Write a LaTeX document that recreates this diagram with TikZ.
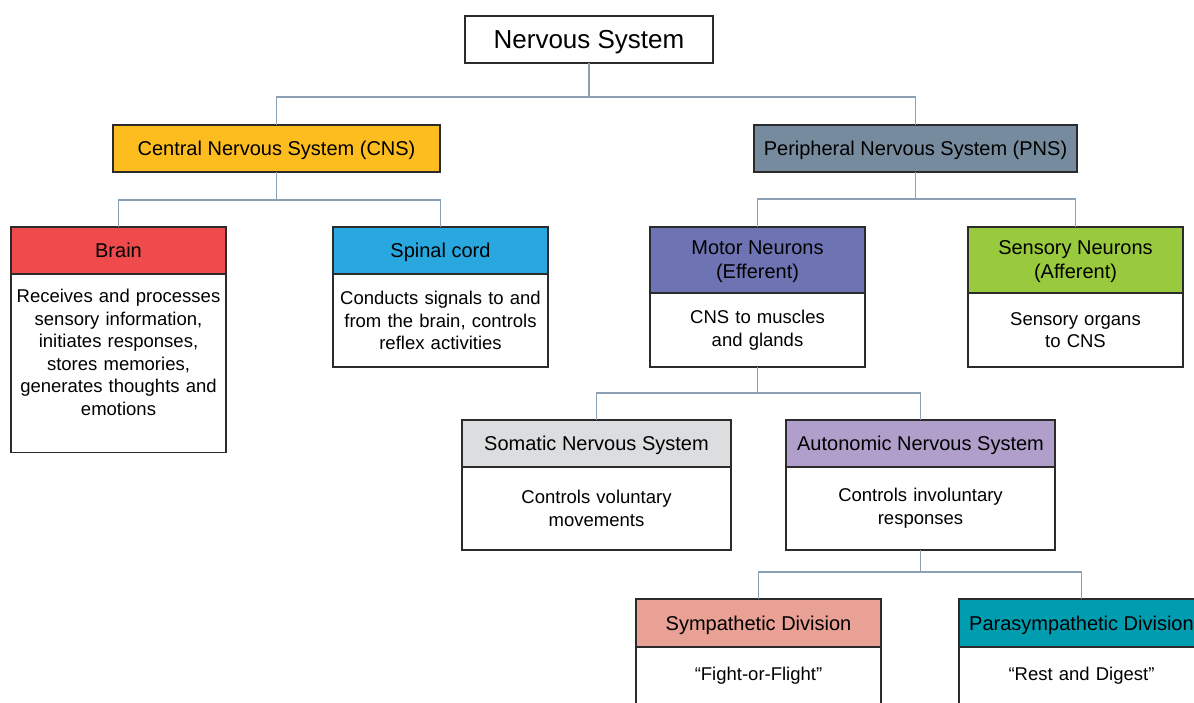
\documentclass[tikz,border=0pt]{standalone}
\usepackage{fontspec}
\setmainfont{Liberation Sans}
\usepackage{tikz}
\usetikzlibrary{positioning}

\definecolor{boxline}{HTML}{2B2B2B}
\definecolor{linkgray}{HTML}{8CA0B3}
\definecolor{cnsyellow}{HTML}{FDBD1E}
\definecolor{pnsslate}{HTML}{768B9D}
\definecolor{brainred}{HTML}{EF4B4C}
\definecolor{spinalblue}{HTML}{29A8E0}
\definecolor{motorblue}{HTML}{6E74B3}
\definecolor{sensorygreen}{HTML}{99C93D}
\definecolor{somaticgray}{HTML}{DCDDDE}
\definecolor{autopurple}{HTML}{B09FCB}
\definecolor{sympink}{HTML}{E9A095}
\definecolor{paracyan}{HTML}{009DB1}

\begin{document}
\begin{tikzpicture}[x=1pt,y=1pt]

        \tikzstyle{head}=[draw=boxline,line width=1.2pt,outer sep=0pt,inner sep=4pt,minimum height=47pt,text depth=0pt,align=center,font=\fontsize{20}{24}\selectfont]
        \tikzstyle{body}=[draw=boxline,line width=1.2pt,outer sep=0pt,fill=white,inner xsep=4pt,align=center,font=\fontsize{18.5}{22.6}\selectfont]
        \tikzstyle{link}=[draw=linkgray,line width=1.3pt]

        \useasboundingbox (0,0) rectangle (1194,-703);
        \clip (0,0) rectangle (1194,-703);

        \node[head,minimum width=248pt,font=\fontsize{26}{30}\selectfont] (A) at (589,-39.5) {Nervous System};
        \node[head,fill=cnsyellow,minimum width=327pt] (B) at (276.5,-148.5) {Central Nervous System (CNS)};
        \node[head,fill=pnsslate,minimum width=323pt] (C) at (915.5,-148.5) {Peripheral Nervous System (PNS)};

        \node[head,fill=brainred,minimum width=215pt,anchor=north] (D) at (118.5,-227) {Brain};
        \node[head,fill=spinalblue,minimum width=215pt] (E) [right=107pt of D] {Spinal cord};
        \node[head,fill=motorblue,minimum width=215pt,minimum height=66pt,anchor=north] (F) at (757.5,-227) {Motor Neurons\\(Efferent)};
        \node[head,fill=sensorygreen,minimum width=215pt,minimum height=66pt] (G) [right=103pt of F] {Sensory Neurons\\(Afferent)};

        \node[body,minimum width=215pt,text width=207pt,inner ysep=15pt,text depth=135pt] (Db) [below=0pt of D] {Receives and processes\\sensory information,\\initiates responses,\\stores memories,\\generates thoughts and\\emotions};
        \node[body,minimum width=215pt,text width=207pt,minimum height=93pt] (Eb) [below=0pt of E] {Conducts signals to and\\from the brain, controls\\reflex activities};
        \node[body,minimum width=215pt,text width=207pt,minimum height=74pt] (Fb) [below=0pt of F] {CNS to muscles\\and glands};
        \node[body,minimum width=215pt,text width=207pt,minimum height=74pt] (Gb) [below=0pt of G] {Sensory organs\\to CNS};

        \node[head,fill=somaticgray,minimum width=269pt,anchor=north] (H) at (596.5,-420) {Somatic Nervous System};
        \node[head,fill=autopurple,minimum width=269pt,anchor=north] (I) at (920.5,-420) {Autonomic Nervous System};
        \node[body,minimum width=269pt,text width=261pt,minimum height=83pt] (Hb) [below=0pt of H] {Controls voluntary\\movements};
        \node[body,minimum width=269pt,text width=261pt,minimum height=83pt] (Ib) [below=0pt of I] {Controls involuntary\\responses};

        \node[head,fill=sympink,minimum width=245pt,minimum height=48pt,anchor=north] (J) at (758.5,-599) {Sympathetic Division};
        \node[head,fill=paracyan,minimum width=245pt,minimum height=48pt,anchor=north] (K) at (1081.5,-599) {Parasympathetic Division};
        \node[body,minimum width=245pt,text width=237pt,inner ysep=20pt,text depth=80pt] (Jb) [below=0pt of J] {“Fight-or-Flight”};
        \node[body,minimum width=245pt,text width=237pt,inner ysep=20pt,text depth=80pt] (Kb) [below=0pt of K] {“Rest and Digest”};

        \coordinate[below=34pt of A] (A1);
        \coordinate[below=28pt of B] (B1);
        \coordinate[below=27pt of C] (C1);
        \coordinate[below=26pt of Fb] (F1);
        \coordinate[below=22pt of Ib] (I1);

        \draw[link] (A) -- (A1) -| (B);
        \draw[link] (A1) -| (C);

        \draw[link] (B) -- (B1) -| (D);
        \draw[link] (B1) -| (E);

        \draw[link] (C) -- (C1) -| (F);
        \draw[link] (C1) -| (G);

        \draw[link] (Fb) -- (F1) -| (H);
        \draw[link] (F1) -| (I);

        \draw[link] (Ib) -- (I1) -| (J);
        \draw[link] (I1) -| (K);
      \end{tikzpicture}
\end{document}
